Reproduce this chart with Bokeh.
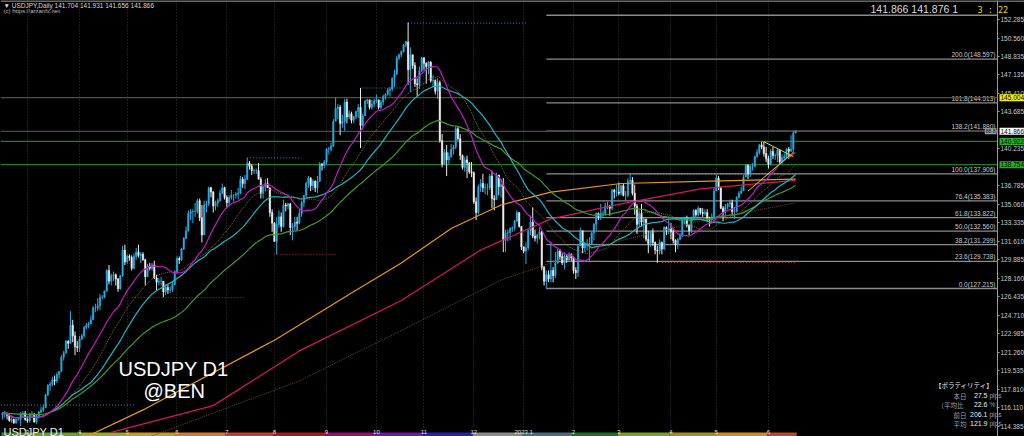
import numpy as np
from bokeh.plotting import figure
from bokeh.models import (ColumnDataSource, FixedTicker, Range1d, Label,
                          NumeralTickFormatter)
from bokeh.embed import file_html
from bokeh.resources import INLINE
from bokeh.core.properties import value

# ---------------- data ----------------
month_counts = [11, 23, 21, 22, 22, 21, 23, 22, 21, 22, 22, 22, 20, 23, 20, 23, 13]
month_names = ["", "3", "4", "5", "6", "7", "8", "9", "10", "11", "12",
               "2023.1", "2", "3", "4", "5", "6"]
first_open = 115.4

closes = [
    115.6, 115.6, 115.4, 114.9, 115.0, 114.7, 115.0, 115.0, 115.5, 115.6, 115.0,
    114.9, 115.5, 115.5, 114.8, 115.3, 115.7, 115.9, 116.1, 117.3, 118.2, 118.3, 118.7, 118.6, 119.2, 119.5, 120.8, 121.2, 122.3, 122.1, 123.8, 122.8, 121.8, 121.7,
    122.5, 122.8, 123.6, 123.8, 123.9, 124.3, 125.4, 125.4, 125.6, 126.4, 126.4, 127.0, 128.9, 127.9, 128.4, 128.5, 128.1, 127.2, 128.4, 130.8, 129.7,
    130.2, 130.1, 129.1, 130.2, 130.6, 130.3, 130.4, 129.9, 128.3, 129.3, 129.1, 129.4, 128.2, 127.8, 127.9, 127.9, 126.9, 127.3, 127.1, 127.1, 127.6, 128.7,
    130.0, 129.9, 130.9, 131.9, 132.6, 134.2, 134.4, 134.4, 134.4, 135.4, 133.8, 132.2, 135.0, 135.1, 136.6, 136.2, 134.9, 135.2, 135.4, 136.1, 136.6, 135.7,
    135.2, 135.7, 135.9, 135.9, 136.0, 136.1, 137.4, 137.0, 137.4, 138.9, 138.6, 138.2, 138.2, 138.2, 137.4, 136.1, 136.7, 137.0, 136.6, 134.3, 133.3,
    131.6, 133.2, 133.9, 133.0, 135.0, 134.9, 135.1, 132.9, 133.0, 133.4, 133.3, 134.2, 135.2, 135.9, 137.0, 137.5, 136.8, 137.2, 136.6, 137.2, 138.8, 138.7, 139.0,
    140.2, 140.2, 140.5, 142.8, 144.0, 144.1, 142.6, 142.8, 144.6, 143.2, 143.5, 142.9, 143.2, 143.7, 144.1, 142.4, 143.3, 144.7, 144.8, 144.1, 144.4, 144.7,
    144.8, 144.1, 144.6, 145.1, 145.3, 145.7, 145.8, 146.8, 147.2, 148.7, 149.0, 149.3, 149.9, 150.2, 147.6, 149.0, 148.0, 146.3, 146.2, 147.5, 148.7,
    148.2, 147.9, 148.3, 146.6, 146.6, 145.6, 146.4, 141.0, 138.8, 139.9, 139.2, 139.5, 140.2, 140.4, 142.1, 141.2, 139.6, 138.5, 139.2, 138.9, 138.1, 138.0,
    135.3, 134.3, 136.7, 137.0, 136.6, 136.6, 136.6, 137.7, 135.6, 135.5, 137.8, 136.7, 136.9, 131.7, 132.4, 132.4, 132.8, 132.9, 133.5, 134.3, 133.0, 131.1,
    130.7, 131.0, 132.6, 133.4, 132.1, 131.9, 132.2, 132.5, 129.2, 127.9, 128.5, 128.1, 128.9, 128.4, 129.6, 130.7, 130.2, 129.6, 130.2, 129.9, 130.4, 130.1,
    128.9, 128.7, 131.2, 132.6, 131.0, 131.4, 131.4, 131.4, 132.4, 133.2, 134.2, 133.9, 134.2, 134.2, 134.9, 134.9, 134.7, 136.4, 136.2, 136.2,
    136.1, 136.8, 135.9, 135.9, 137.2, 137.3, 136.1, 134.9, 133.2, 134.2, 133.4, 133.7, 131.8, 131.4, 132.5, 131.5, 130.8, 130.7, 131.5, 130.9, 132.9, 132.7, 132.8,
    132.5, 131.7, 131.3, 131.8, 132.2, 133.6, 133.7, 133.1, 132.6, 133.8, 134.5, 134.1, 134.7, 134.3, 134.2, 134.3, 133.7, 133.6, 133.9, 136.3,
    137.5, 136.6, 134.7, 134.3, 134.8, 135.1, 135.2, 134.4, 134.4, 135.7, 136.1, 136.3, 137.6, 138.7, 137.9, 138.6, 138.6, 139.5, 139.9, 140.6, 140.4, 139.8, 139.3,
    138.8, 140.0, 139.6, 139.6, 140.1, 139.0, 139.4, 139.5, 140.2, 140.0, 140.2, 141.7, 141.866,
]
highs = [
    115.7, 115.8, 115.6, 115.5, 115.2, 115.1, 115.1, 115.2, 115.7, 115.8, 115.8,
    115.3, 115.6, 115.8, 115.6, 115.5, 115.8, 116.2, 116.4, 117.4, 118.3, 118.5, 119.0, 119.1, 119.4, 119.5, 121.0, 121.4, 122.4, 122.4, 125.1, 124.3, 123.2, 122.3,
    122.8, 123.0, 123.7, 124.0, 124.1, 124.7, 125.6, 125.8, 126.3, 126.7, 126.6, 127.0, 129.0, 129.4, 128.6, 128.8, 128.6, 128.2, 128.5, 131.2, 131.3,
    130.4, 130.4, 130.3, 130.5, 131.0, 131.3, 130.6, 130.6, 130.0, 129.5, 129.6, 129.6, 129.8, 128.5, 128.2, 128.3, 127.9, 127.6, 127.6, 127.4, 127.9, 128.9,
    130.2, 130.2, 131.0, 132.0, 133.0, 134.5, 134.6, 134.6, 135.2, 135.6, 135.6, 135.0, 135.4, 135.4, 136.7, 136.7, 136.3, 135.4, 135.6, 136.4, 137.0, 136.7,
    135.9, 135.9, 136.4, 136.0, 136.2, 136.6, 137.7, 137.6, 137.8, 139.4, 139.1, 138.8, 138.4, 138.4, 138.9, 137.6, 136.8, 137.4, 137.5, 136.6, 134.6,
    133.4, 133.9, 134.5, 134.3, 135.5, 135.2, 135.2, 135.2, 133.3, 133.9, 133.9, 134.6, 135.4, 135.9, 137.2, 137.7, 137.6, 137.4, 137.3, 137.7, 139.0, 138.9, 139.2,
    140.3, 140.4, 140.8, 143.0, 145.0, 144.4, 144.3, 143.4, 144.9, 144.9, 143.8, 143.7, 143.3, 143.8, 144.4, 145.9, 143.5, 144.8, 144.9, 144.8, 144.8, 144.9,
    145.3, 144.8, 144.8, 145.3, 145.4, 145.9, 146.0, 146.9, 147.6, 148.9, 149.1, 149.4, 150.0, 150.3, 152.0, 149.7, 149.0, 148.3, 146.8, 147.9, 148.8,
    148.8, 148.3, 148.4, 148.4, 147.1, 146.7, 146.8, 146.6, 141.6, 140.2, 140.6, 139.9, 140.7, 140.6, 142.3, 142.3, 141.6, 139.7, 139.5, 139.6, 139.0, 139.0,
    138.1, 135.7, 136.9, 137.4, 137.9, 137.0, 137.0, 137.9, 138.2, 135.9, 138.0, 137.7, 137.4, 137.5, 132.7, 132.7, 132.9, 133.0, 133.6, 134.5, 134.3, 133.0,
    131.1, 131.5, 132.7, 134.0, 134.8, 132.7, 132.3, 132.9, 132.6, 129.3, 128.9, 128.9, 131.6, 129.2, 130.6, 130.9, 130.9, 130.5, 130.6, 130.4, 130.6, 130.5,
    130.2, 129.2, 131.2, 132.9, 132.6, 131.5, 131.8, 132.0, 132.5, 133.3, 134.3, 134.3, 135.1, 134.5, 135.2, 135.3, 135.0, 136.5, 136.5, 136.9,
    137.1, 136.9, 137.0, 136.3, 137.5, 137.9, 137.6, 136.9, 135.1, 134.5, 135.1, 133.8, 133.7, 132.6, 132.6, 132.8, 131.6, 131.2, 131.8, 131.6, 133.0, 133.0, 133.6,
    133.3, 132.8, 131.8, 131.9, 132.4, 133.8, 133.9, 134.0, 133.2, 133.9, 134.6, 134.6, 134.9, 134.7, 134.7, 134.6, 134.6, 133.9, 134.2, 136.6,
    137.8, 137.7, 136.7, 134.9, 135.1, 135.2, 135.5, 135.5, 134.8, 135.8, 136.3, 136.7, 137.8, 138.8, 138.8, 138.7, 138.9, 139.6, 140.2, 140.7, 140.9, 140.9, 140.4,
    139.6, 140.2, 140.4, 139.8, 140.2, 140.2, 139.7, 139.8, 140.3, 140.4, 141.5, 141.9, 141.931,
]
lows = [
    115.0, 115.2, 115.0, 114.8, 114.7, 114.6, 114.6, 114.9, 114.4, 115.3, 114.9,
    114.7, 114.7, 115.3, 114.7, 114.6, 115.1, 115.6, 115.7, 116.1, 117.2, 117.7, 118.1, 118.2, 118.4, 118.8, 119.4, 120.5, 121.1, 121.6, 122.4, 122.2, 121.0, 121.3,
    121.3, 122.4, 122.6, 123.4, 123.5, 123.9, 124.3, 125.0, 125.1, 125.2, 126.2, 126.3, 126.9, 127.6, 127.5, 127.9, 127.5, 126.9, 127.1, 128.3, 129.4,
    129.5, 129.8, 128.9, 129.0, 129.9, 130.1, 129.6, 129.8, 127.5, 128.4, 128.9, 128.9, 128.1, 127.0, 127.5, 127.5, 126.4, 126.6, 126.7, 126.8, 126.9, 127.5,
    128.6, 129.5, 129.8, 130.8, 131.8, 132.5, 133.6, 133.3, 133.9, 134.2, 133.5, 131.5, 132.2, 134.3, 134.9, 135.7, 134.3, 134.5, 134.8, 135.3, 136.0, 135.5,
    134.8, 134.9, 135.5, 135.3, 135.6, 135.5, 136.0, 136.6, 136.5, 137.3, 138.3, 137.8, 137.9, 137.9, 137.4, 135.6, 135.6, 136.3, 136.6, 133.9, 132.5,
    131.6, 130.4, 132.9, 132.5, 132.9, 134.4, 134.6, 132.2, 131.7, 132.6, 132.6, 133.2, 133.9, 134.8, 135.7, 136.6, 136.3, 136.4, 136.2, 136.1, 137.8, 138.2, 138.4,
    138.8, 139.7, 140.0, 140.4, 142.8, 143.0, 141.5, 142.2, 141.9, 142.6, 143.0, 142.6, 142.6, 143.0, 143.1, 140.3, 142.0, 143.3, 144.4, 143.9, 143.9, 144.1,
    144.5, 143.9, 143.9, 144.3, 144.8, 145.2, 145.1, 145.6, 146.0, 147.1, 148.5, 148.8, 149.2, 149.7, 146.2, 145.5, 147.7, 146.0, 145.1, 145.8, 147.4,
    147.6, 146.3, 147.2, 146.4, 146.0, 145.3, 144.9, 140.8, 138.5, 138.9, 137.7, 138.8, 139.4, 139.7, 140.2, 141.0, 139.2, 138.3, 138.1, 137.5, 137.9, 137.6,
    135.1, 133.6, 134.1, 136.2, 136.2, 136.0, 135.9, 136.4, 134.7, 134.5, 135.6, 135.9, 135.7, 130.6, 130.6, 131.6, 131.7, 132.5, 132.6, 133.4, 132.9, 130.8,
    130.5, 129.5, 130.8, 132.2, 131.9, 131.6, 131.4, 131.8, 128.9, 127.5, 127.2, 127.8, 127.8, 127.8, 128.2, 129.5, 129.9, 129.4, 129.0, 129.6, 129.7, 129.8,
    128.6, 128.1, 128.3, 131.2, 130.5, 130.6, 130.8, 129.8, 131.3, 131.7, 132.6, 133.6, 133.6, 133.9, 134.0, 134.6, 134.0, 134.5, 135.6, 135.8,
    135.9, 135.9, 135.8, 135.4, 135.7, 136.9, 135.9, 134.1, 132.3, 132.9, 133.0, 131.9, 131.6, 130.5, 131.1, 131.2, 130.4, 129.6, 130.4, 130.4, 130.8, 132.2, 132.3,
    131.8, 131.4, 130.6, 130.9, 131.7, 132.0, 133.2, 132.9, 132.2, 132.4, 133.6, 133.9, 133.9, 134.1, 133.9, 134.0, 133.4, 133.0, 133.3, 133.5,
    136.3, 136.4, 134.6, 133.5, 134.0, 134.6, 134.8, 134.0, 133.7, 134.3, 135.6, 136.0, 136.4, 137.6, 137.4, 137.6, 138.2, 138.5, 139.4, 139.7, 140.2, 139.5, 139.0,
    138.4, 138.7, 139.3, 139.2, 139.0, 138.8, 138.8, 139.1, 139.3, 139.3, 140.0, 139.8, 141.656,
]

# long moving averages (bar index, price)
ma_long1_idx = [37, 63, 120, 154, 176, 198, 220, 242, 273, 308, 350]
ma_long1_val = [113.4, 116.0, 122.4, 126.8, 129.6, 132.8, 135.0, 136.2, 137.0, 137.2, 137.4]
ma_long2_idx = [48, 93, 131, 176, 211, 242, 273, 308, 350]
ma_long2_val = [113.8, 116.3, 121.4, 126.1, 130.8, 133.7, 135.1, 136.5, 137.3]
ma_long3_idx = [65, 131, 176, 220, 264, 308, 350]
ma_long3_val = [113.4, 118.6, 123.3, 128.0, 131.2, 133.5, 135.2]

fib_levels = [127.215, 129.738, 131.299, 132.560, 133.822, 135.383, 137.906, 141.880, 144.513, 148.597, 152.681]
fib_names = ["0.0(127.215)", "23.6(129.738)", "38.2(131.299)", "50.0(132.560)", "61.8(133.822)",
             "76.4(135.383)", "100.0(137.906)", "138.2(141.880)", "161.8(144.513)", "200.0(148.597)", ""]
fib_start_idx = 240

hline_levels = [145.004, 141.866, 140.922, 138.754]
hline_colors = ["#55551c", "#4a4a4a", "#1f7f1f", "#1f7f1f"]
tag_texts = ["145.004", "141.866", "140.922", "138.754"]
tag_bg = ["#f0f000", "#ffffff", "#22b022", "#22b022"]

mark_x0 = [-2, 57, 108, 120, 158, 179, 291, 277]
mark_x1 = [59, 107, 132, 147, 179, 232, 350, 350]
mark_p = [116.35, 126.36, 139.39, 130.40, 145.90, 151.95, 129.64, 137.91]
mark_col = ["#1f8fd0", "#c83030", "#1f8fd0", "#c83030", "#1f8fd0", "#1f8fd0", "#c83030", "#9a9a9a"]

trend_xs = [[329, 349], [336, 349]]
trend_ys = [[136.3, 139.9], [140.9, 139.5]]

ytick_vals = [152.285, 150.560, 148.835, 147.135, 145.410, 143.685, 140.235, 136.785, 135.060,
              133.335, 131.610, 129.885, 128.160, 126.435, 124.710, 122.985, 121.260, 119.535,
              117.810, 116.110, 114.385]

band_colors = ["#3f7f26", "#6c9b2e", "#9aa62f", "#c79a2f", "#cf7a36", "#b8412f", "#9f1c22",
               "#8e1470", "#6a1d9e", "#2b1fa6", "#8a8a8a", "#4e6c74", "#1f6e22", "#7c9c2c",
               "#9c8f2a", "#cd8b2b", "#b44b2e"]

vol_keys = ["\u3010\u30dc\u30e9\u30c6\u30a3\u30ea\u30c6\u30a3\u3011", "\u672c\u65e5",
            "\uff08\u5e73\u5747\u6bd4", "\u524d\u65e5", "\u5e73\u5747"]
vol_vals = ["", "27.5", "22.6", "206.1", "121.9"]
vol_units = ["", "pips", "%\uff09", "pips", "pips"]

# ---------------- layout helpers (pixel geometry of the chart) ----------------
BAR_PX = 2.266
X0_PX = 2.0
PX_YEN = 10.73
Y_REF_PX, Y_REF = 19.0, 152.285
W, H = 1024, 436
AX_PX = 997


def xd(px):
    return (px - X0_PX) / BAR_PX


def yd(py):
    return Y_REF - (py - Y_REF_PX) / PX_YEN


FONT = "Liberation Sans"
p = figure(frame_width=W, frame_height=H,
           x_range=Range1d(xd(0), xd(W)), y_range=Range1d(yd(H), yd(0)),
           y_axis_location="right", output_backend="svg", toolbar_location=None,
           background_fill_color="#000000", border_fill_color="#000000",
           outline_line_color=None, min_border=0, min_border_top=0, min_border_left=0,
           min_border_right=0, min_border_bottom=0)

try:
    from bokeh.models import GlobalInlineStyleSheet
    p.stylesheets = [GlobalInlineStyleSheet(css="body{background:#000000;}")]
except Exception:
    pass

month_start = list(np.cumsum([0] + month_counts[:-1]))
n = min(len(closes), len(highs), len(lows))

# axes (drawn at fixed positions inside the canvas, like MT4)
yax = p.yaxis[0]
yax.fixed_location = xd(AX_PX)
yax.ticker = FixedTicker(ticks=ytick_vals)
yax.formatter = NumeralTickFormatter(format="0.000")
yax.major_label_text_font_size = "6.5px"
yax.major_label_text_font = FONT
yax.major_label_text_color = "#c8c8c8"
yax.major_tick_out = 2
yax.major_tick_in = 0
yax.minor_tick_line_color = None
yax.major_tick_line_color = "#9a9a9a"
yax.axis_line_color = "#9a9a9a"
yax.major_label_standoff = 1

xax = p.xaxis[0]
xax.fixed_location = yd(429)
xax.ticker = FixedTicker(ticks=[int(m) for m in month_start[1:]])
xax.major_label_overrides = {int(m): lab for m, lab in zip(month_start[1:], month_names[1:])}
xax.major_label_text_font_size = "6px"
xax.major_label_text_font = FONT
xax.major_label_text_color = "#e0e0e0"
xax.major_label_text_align = "left"
xax.major_tick_out = 0
xax.major_tick_in = 0
xax.minor_tick_line_color = None
xax.axis_line_color = None
xax.major_label_standoff = 0

p.xgrid.grid_line_color = "#383838"
p.xgrid.grid_line_dash = "1 2"
p.ygrid.grid_line_color = None

# top edge line and month colour band
p.segment(x0=[xd(0)], y0=[yd(0.5)], x1=[xd(W)], y1=[yd(0.5)], line_color="#8a8a8a", line_width=1.5)
band_left = [max(m - 0.5, xd(0)) for m in month_start]
band_right = [m - 0.5 for m in month_start[1:]] + [n - 0.5]
p.quad(left=band_left, right=band_right, bottom=yd(436), top=yd(432),
       fill_color=band_colors, line_color=None)

# fib lines + labels
xr_end = xd(AX_PX)
p.segment(x0=[fib_start_idx] * len(fib_levels), y0=fib_levels, x1=[xr_end] * len(fib_levels),
          y1=fib_levels, line_color="#8c8c8c", line_width=1.3)
p.text(x=[xd(995)] * len(fib_levels), y=fib_levels, text=fib_names, text_align="right",
       text_baseline="bottom", text_font=value(FONT), text_font_size="6.5px",
       text_color="#c8c8c8", y_offset=-1)

# full-width horizontal lines (up to the price scale)
p.segment(x0=[xd(0)] * len(hline_levels), y0=hline_levels, x1=[xr_end] * len(hline_levels),
          y1=hline_levels, line_color=hline_colors, line_width=1.2)

# dotted swing markers
p.segment(x0=mark_x0, y0=mark_p, x1=mark_x1, y1=mark_p, line_color=mark_col,
          line_dash="1 2", line_width=1)

# candles
idx = np.arange(n)
c = np.array(closes[:n], dtype=float)
o = np.concatenate([[first_open], c[:-1]])
h = np.maximum(np.array(highs[:n], dtype=float), np.maximum(o, c))
l = np.minimum(np.array(lows[:n], dtype=float), np.minimum(o, c))
up = c >= o
col = np.where(up, "#26abe3", "#eeeeee")
src = ColumnDataSource(dict(x=idx, h=h, l=l, top=np.maximum(o, c), bot=np.minimum(o, c), col=col))
p.segment(x0="x", y0="h", x1="x", y1="l", source=src, line_color="col", line_width=1)
p.vbar(x="x", width=0.62, top="top", bottom="bot", source=src, fill_color="col",
       line_color="col", line_width=0.5)


# moving averages computed from the closes
def sma(a, k):
    return np.array([a[max(0, i - k + 1):i + 1].mean() for i in range(len(a))])


def ema(a, k):
    out = np.empty(len(a))
    alpha = 2.0 / (k + 1)
    out[0] = a[0]
    for i in range(1, len(a)):
        out[i] = alpha * a[i] + (1 - alpha) * out[i - 1]
    return out


p.line(ma_long3_idx, ma_long3_val, line_color="#6e4b22", line_width=1, line_dash="1 1")
p.line(ma_long2_idx, ma_long2_val, line_color="#d6175e", line_width=1.2)
p.line(ma_long1_idx, ma_long1_val, line_color="#e8961e", line_width=1.2)
p.line(idx, ema(c, 75), line_color="#3f9a2a", line_width=1.2)
p.line(idx, sma(c, 40), line_color="#1fb4c6", line_width=1.2)
p.line(idx, sma(c, 30), line_color="#77772a", line_width=1, line_dash="1 1")
p.line(idx, sma(c, 20), line_color="#c21cc2", line_width=1.2)

# triangle trendlines
p.multi_line(trend_xs, trend_ys, line_color="#d8d820", line_width=1)

# price tags on the price scale
for lev, txt, bg in zip(hline_levels, tag_texts, tag_bg):
    p.add_layout(Label(x=xd(999), y=lev, text=txt, text_align="left", text_baseline="middle",
                       text_font=FONT, text_font_size="6.5px", text_color="#000000",
                       background_fill_color=bg, padding=1))
p.add_layout(Label(x=xd(996), y=hline_levels[1], text="88.8", text_align="right",
                   text_baseline="middle", text_font=FONT, text_font_size="5px",
                   text_color="#000000", background_fill_color="#a0a0a0", padding=1))

# header texts
p.add_layout(Label(x=xd(3), y=yd(5), text="\u25bc USDJPY,Daily  141.704 141.931 141.656 141.866",
                   text_font=FONT, text_font_size="6.5px", text_color="#d8d8d8",
                   text_baseline="middle"))
p.add_layout(Label(x=xd(3), y=yd(10), text="(c) https://arzanfx.net",
                   text_font=FONT, text_font_size="6px", text_color="#bbbbbb",
                   text_baseline="middle"))
p.add_layout(Label(x=xd(870), y=yd(8), text="141.866  141.876  1",
                   text_font=FONT, text_font_size="10.5px", text_color="#dcdcdc",
                   text_baseline="middle"))
p.add_layout(Label(x=xd(977), y=yd(9), text="3 : 22", text_font="DejaVu Sans Mono",
                   text_font_size="8.5px", text_color="#e8d800", text_baseline="middle"))

# watermark texts
p.add_layout(Label(x=xd(118), y=yd(368.5), text="USDJPY D1", text_font=FONT,
                   text_font_size="20px", text_color="#ffffff", text_baseline="alphabetic"))
p.add_layout(Label(x=xd(143), y=yd(390), text="@BEN", text_font=FONT,
                   text_font_size="20px", text_color="#ffffff", text_baseline="alphabetic"))
p.add_layout(Label(x=xd(3), y=yd(431), text="USDJPY D1", text_font=FONT,
                   text_font_size="11px", text_color="#f0f0f0", text_baseline="alphabetic"))

# volatility panel
JP = "Noto Sans CJK JP"
vol_y = [384, 395, 404, 414, 423]
vol_kx = [993, 966, 963, 966, 966]
vol_kcol = ["#e8e8e8", "#9aa0a8", "#9aa0a8", "#9aa0a8", "#9aa0a8"]
for ypx, key, val, unit, kx, kcol in zip(vol_y, vol_keys, vol_vals, vol_units, vol_kx, vol_kcol):
    p.add_layout(Label(x=xd(kx), y=yd(ypx), text=key, text_align="right", text_baseline="middle",
                       text_font=JP, text_font_size="6.5px", text_color=kcol))
    if val:
        p.add_layout(Label(x=xd(987), y=yd(ypx), text=val, text_align="right",
                           text_baseline="middle", text_font=FONT, text_font_size="7px",
                           text_color="#ececec"))
        p.add_layout(Label(x=xd(989), y=yd(ypx), text=unit, text_align="left",
                           text_baseline="middle", text_font=FONT, text_font_size="6.5px",
                           text_color="#9aa0a8"))

open("out.html", "w").write(file_html(p, INLINE))
